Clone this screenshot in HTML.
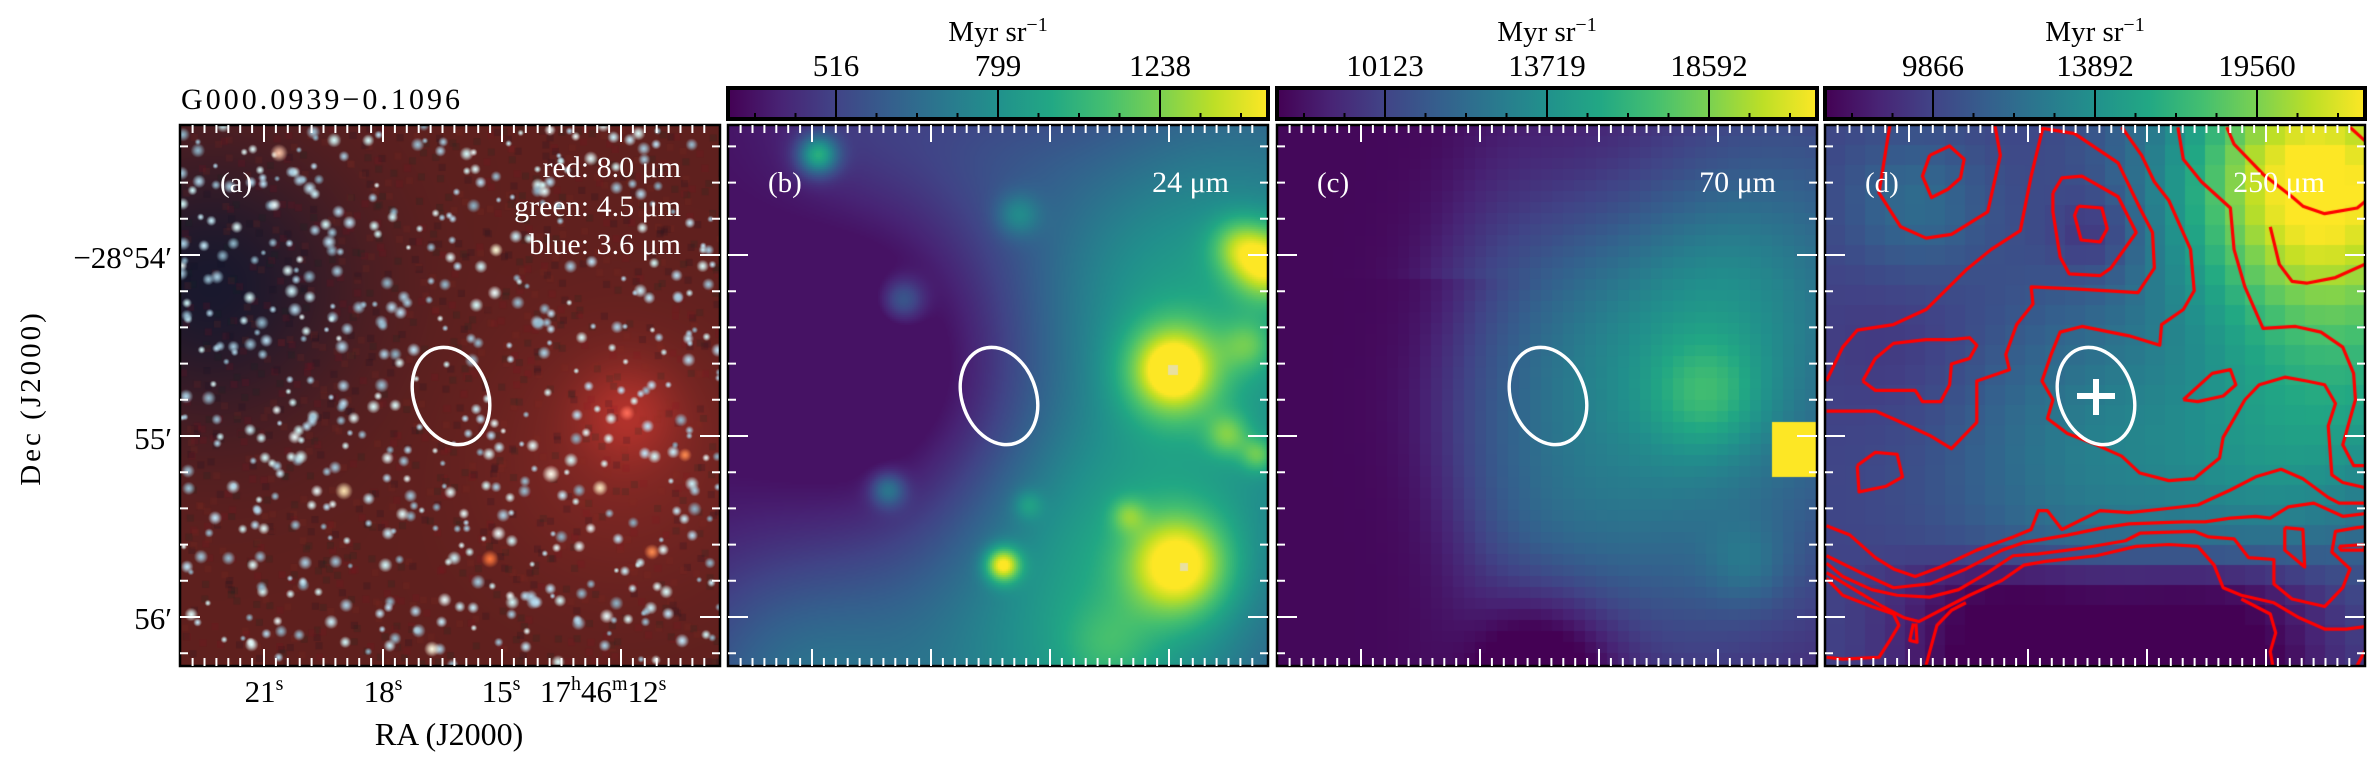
<!DOCTYPE html>
<html><head><meta charset="utf-8"><style>
html,body{margin:0;padding:0;background:#fff;}
#wrap{position:relative;width:2379px;height:762px;overflow:hidden;background:#fff;}
canvas{position:absolute;top:125px;}
svg{position:absolute;left:0;top:0;}
text{font-family:"Liberation Serif",serif;}
</style></head><body>
<div id="wrap">
<canvas id="ca" width="540" height="541" style="left:180px"></canvas>
<canvas id="cb" width="540" height="541" style="left:728px"></canvas>
<canvas id="cc" width="540" height="541" style="left:1277px"></canvas>
<canvas id="cd" width="540" height="541" style="left:1825px"></canvas>
<svg id="ov" width="2379" height="762"></svg>
</div>
<script>
const cbTicksB=["516","799","1238"];
const cbTicksC=["10123","13719","18592"];
const cbTicksD=["9866","13892","19560"];
const raLabels=["21s","18s","15s","17h46m12s"];
const decLabels=["−28°54′","55′","56′"];

const VIR=[[68,1,84],[72,36,117],[65,68,135],[53,95,141],[42,120,142],[33,145,140],[34,168,132],[68,191,112],[122,209,81],[189,223,38],[253,231,37]];
function vir(v){v=Math.max(0,Math.min(1,v));const f=v*10,i=Math.min(9,Math.floor(f)),t=f-i;const a=VIR[i],b=VIR[i+1];return [a[0]+(b[0]-a[0])*t,a[1]+(b[1]-a[1])*t,a[2]+(b[2]-a[2])*t];}
function gsum(x,y,list){let s=0;for(const g of list){const dx=x-g[0],dy=y-g[1];s+=g[3]*Math.exp(-(dx*dx+dy*dy)/(2*g[2]*g[2]));}return s;}
function sig(z){return 1/(1+Math.exp(-z));}
function drawField(id,cell,fn){const c=document.getElementById(id),ctx=c.getContext('2d');const n=Math.ceil(540/cell);
 for(let j=0;j<n;j++)for(let i=0;i<n;i++){const x=(i+0.5)*cell,y=(j+0.5)*cell;const col=vir(fn(x,y));ctx.fillStyle=`rgb(${col[0]|0},${col[1]|0},${col[2]|0})`;ctx.fillRect(i*cell,j*cell,cell+0.5,cell+0.5);}return ctx;}

// panel b
const GB=[[540,80,150,0.3],[520,330,140,0.3],[380,180,110,0.2],[300,540,140,0.3],[60,560,90,0.25],[430,540,120,0.2],[330,380,80,0.1],[130,0,60,0.1],[250,30,70,0.1],[190,260,110,-0.15],
[90,30,14,0.5],[445,245,32,0.55],[445,245,12,0.3],[450,440,35,0.55],[275,440,12,0.6],[160,365,12,0.3],[175,175,15,0.25],[540,140,25,0.5],[400,390,12,0.2],[510,120,20,0.25],[290,90,15,0.2],[500,310,15,0.25],[530,330,12,0.25],[300,380,10,0.15],[380,520,30,0.12],[520,220,18,0.2]];
const ctxb=drawField('cb',2,(x,y)=>Math.max(0.05,0.05+gsum(x,y,GB)));
ctxb.fillStyle='#e8e0a0';ctxb.fillRect(440,240,10,10);ctxb.fillRect(452,438,8,8);

// panel c
const GC=[[400,300,180,0.3],[500,100,150,0.15],[350,200,120,0.1],[250,450,90,0.1],[430,270,40,0.2],[450,160,60,0.05],[470,440,30,0.12],[260,540,60,-0.3],[340,40,90,-0.1]];
drawField('cc',11,(x,y)=>{if(x>490&&y>300&&y<350)return 1;let v=0.05+gsum(x,y,GC);const edge=(y<150?150+(150-y)*0.3:170+Math.sin(y/60)*15);v=0.02+(v-0.02)*sig((x-edge)/25);return v;});

// panel d
const GD=[[490,50,100,0.8],[540,250,110,0.3],[280,330,110,0.22],[90,80,50,0.15],[450,350,70,0.1],[80,220,60,-0.05],[270,110,30,-0.12]];
const ctxd=drawField('cd',20,(x,y)=>{let v=0.2+gsum(x,y,GD);v-=0.3*Math.exp(-Math.pow((x-290)/210,4))*sig((y-440)/12);return v;});

const CT=[
[[300,150],[355,125],[395,160],[385,210],[350,240],[305,262],[280,205],[300,150]],
[[190,70],[160,250],[220,340],[290,370],[360,360],[460,300],[495,150],[480,70]],
[[710,285],[775,290],[790,345],[770,380],[718,375],[700,310],[710,285]],
[[640,250],[665,210],[720,205],[820,260],[870,355],[800,450],[770,470],[685,465],[660,420],[640,300],[640,250]],
[[15,750],[60,660],[100,615],[200,600],[290,560],[400,455],[470,400],[550,350],[580,205],[612,78],[700,92],[820,170],[880,290],[915,355],[920,450],[875,515],[700,505],[580,500],[585,545],[540,600],[510,680],[520,720],[430,750],[430,860],[360,930],[300,895],[210,855],[150,830],[15,830]],
[[830,75],[885,150],[920,220],[960,270],[1020,400],[1030,510],[1000,560],[940,600],[935,655],[850,630],[720,605],[660,620],[635,680],[610,750],[640,800],[625,850],[680,890],[760,920],[830,950],[880,995],[960,1015],[1030,1010],[1100,955],[1110,900],[1170,800],[1210,760],[1280,740],[1340,750],[1390,760],[1420,810],[1400,870],[1410,1000],[1440,1020],[1530,1040]],
[[985,75],[1000,160],[1050,220],[1130,290],[1140,400],[1170,500],[1220,610],[1310,605],[1380,620],[1440,660],[1470,730],[1475,800],[1440,920],[1470,975],[1530,975]],
[[1120,75],[1140,120],[1220,200],[1300,260],[1330,285],[1390,305],[1480,290],[1530,250]],
[[1240,340],[1265,440],[1300,485],[1340,490],[1420,475],[1500,440],[1530,435]],
[[1460,75],[1500,110],[1530,120]],
[[1000,800],[1080,730],[1130,720],[1145,760],[1110,790],[1040,805],[1000,800]],
[[115,750],[150,690],[200,650],[290,640],[360,640],[410,635],[430,655],[410,690],[360,705],[355,760],[330,805],[280,805],[260,775],[150,775],[115,750]],
[[100,975],[150,940],[210,945],[225,1005],[180,1030],[105,1045],[100,975]],
[[1280,1140],[1330,1145],[1335,1245],[1280,1200],[1280,1140]],
[[1430,1190],[1500,1185],[1500,1200],[1435,1200],[1430,1190]],
[[15,1135],[80,1160],[150,1220],[200,1250],[260,1270],[330,1245],[430,1200],[530,1165],[580,1145],[600,1095],[625,1095],[665,1145],[770,1095],[850,1100],[950,1090],[1040,1080],[1130,1040],[1200,1005],[1270,985],[1330,1010],[1400,1060],[1430,1075],[1530,1075]],
[[15,1215],[110,1260],[200,1300],[300,1290],[400,1250],[500,1200],[560,1180],[680,1160],[780,1140],[850,1130],[1000,1125],[1060,1125],[1130,1115],[1200,1110],[1240,1115],[1290,1085],[1360,1075],[1440,1110],[1530,1100]],
[[15,1235],[60,1270],[140,1305],[210,1320],[300,1325],[380,1305],[460,1260],[530,1215],[600,1210],[720,1195],[840,1175],[880,1155],[1030,1150],[1070,1165],[1140,1170],[1180,1220],[1250,1225],[1250,1290],[1300,1330],[1390,1350],[1440,1300],[1460,1250],[1410,1205],[1420,1150],[1480,1140],[1530,1135]],
[[15,1260],[100,1310],[170,1350],[230,1380],[270,1390],[330,1360],[410,1320],[500,1280],[560,1240],[620,1230],[760,1215],[870,1190],[960,1185],[1040,1190],[1085,1240],[1110,1300],[1160,1320],[1250,1340],[1320,1380],[1390,1410],[1450,1410],[1530,1400]],
[[15,1275],[60,1320],[140,1350],[200,1370],[215,1400],[190,1440],[160,1485],[60,1490],[15,1485]],
[[255,1395],[245,1440],[265,1445],[262,1395]],
[[285,1525],[300,1470],[320,1400],[360,1360],[400,1340]],
[[1250,1525],[1240,1470],[1255,1420],[1240,1370],[1160,1330]],
[[1470,1525],[1500,1470],[1530,1455]]
];
ctxd.strokeStyle='#ff0000';ctxd.lineWidth=3.2;ctxd.lineJoin='round';
for(const c of CT){ctxd.beginPath();c.forEach((p,i)=>{const x=p[0]/2.76-4,y=p[1]/2.66-26;i?ctxd.lineTo(x,y):ctxd.moveTo(x,y);});ctxd.stroke();}

// panel a
(function(){const c=document.getElementById('ca'),ctx=c.getContext('2d');
let s=12345;function rnd(){s=(s*1664525+1013904223)%4294967296;return s/4294967296;}
const img=ctx.createImageData(540,541);
for(let y=0;y<541;y++)for(let x=0;x<540;x++){
 const dark=Math.exp(-((x-30)**2+(y-160)**2)/(2*100*100));
 const neb=Math.exp(-((x-447)**2+(y-288)**2)/(2*35*35))*0.6+0.35*Math.exp(-((x-440)**2+(y-330)**2)/(2*90*90));
 let r=95-70*dark+90*neb,g=32-8*dark+20*neb,b=30+15*dark+15*neb;
 const k=(y*540+x)*4;img.data[k]=r;img.data[k+1]=g;img.data[k+2]=b;img.data[k+3]=255;}
ctx.putImageData(img,0,0);
for(let i=0;i<1200;i++){const x=rnd()*540,y=rnd()*541;ctx.fillStyle=`rgba(${rnd()<0.5?10:140},${rnd()<0.5?15:50},${35},0.15)`;ctx.fillRect(x,y,7,7);}
function star(x,y,r,col){const gr=ctx.createRadialGradient(x,y,0,x,y,r);gr.addColorStop(0,`rgba(${col},1)`);gr.addColorStop(0.4,`rgba(${col},0.7)`);gr.addColorStop(1,`rgba(${col},0)`);ctx.fillStyle=gr;ctx.fillRect(x-r,y-r,2*r,2*r);}
for(let i=0;i<520;i++){const x=rnd()*540,y=rnd()*541,r=3+rnd()*4.5;const w=140+rnd()*100|0;star(x,y,r,`${w},${Math.min(255,w+40)},${Math.min(255,w+60)}`);}
const BR=[[99,28,9,'255,200,170'],[164,366,9,'255,230,180'],[310,434,9,'255,120,60'],[371,349,9,'255,255,240'],[420,363,8,'255,240,200'],[472,427,8,'255,140,80'],[252,524,8,'255,255,230'],[447,288,8,'255,110,90'],[316,125,7,'255,255,220'],[505,330,7,'255,140,80']];
for(const b of BR)star(b[0],b[1],b[2],b[3]);
})();

const NS='http://www.w3.org/2000/svg',ov=document.getElementById('ov');
function el(tag,attrs,txt){const e=document.createElementNS(NS,tag);for(const k in attrs)e.setAttribute(k,attrs[k]);if(txt!==undefined)e.textContent=txt;ov.appendChild(e);return e;}
const PL=[180,728,1277,1825],PT=125,PW=540,PH=541;
PL.forEach((L,pi)=>{
 let fr=el('rect',{x:L,y:PT,width:PW,height:PH,fill:'none',stroke:'#000','stroke-width':2.5});
 
 
 let d='';
 for(let k=-8;k<40;k++){const x=84+k*11.9;if(x<6||x>PW-6)continue;const maj=Math.abs(((k%10)+10)%10)===0;const len=maj?17:8;d+=`M${L+x} ${PT}v${len}M${L+x} ${PT+PH}v${-len}`;}
 for(let k=-4;k<12;k++){const y=130+k*36.2;if(y<6||y>PH-6)continue;const maj=(((k%5)+5)%5)===0;const len=maj?20:8;d+=`M${L} ${PT+y}h${len}M${L+PW} ${PT+y}h${-len}`;}
 let tk=el('path',{d:d,stroke:'#fff','stroke-width':2,fill:'none'});
 
 
 let e=el('ellipse',{cx:L+271,cy:PT+271,rx:37,ry:50,transform:`rotate(-20 ${L+271} ${PT+271})`,fill:'none',stroke:'#fff','stroke-width':3.5});
 
 
 const lab=['(a)','(b)','(c)','(d)'][pi];
 let t=el('text',{x:L+40,y:PT+67,'font-size':29,fill:'#fff'},lab);
 
 
});
let cr=el('path',{d:`M${1825+252} ${PT+271}h38M${1825+271} ${PT+254}v36`,stroke:'#fff','stroke-width':6});


[['red: 8.0 μm',177],['green: 4.5 μm',216],['blue: 3.6 μm',254]].forEach(b=>{let t=el('text',{x:681,y:b[1],'font-size':30,fill:'#fff','text-anchor':'end'},b[0]);});
[['24 μm',1229],['70 μm',1776],['250 μm',2325]].forEach(b=>{let t=el('text',{x:b[1],y:192,'font-size':30,fill:'#fff','text-anchor':'end'},b[0]);});
let grad=el('linearGradient',{id:'vg',x1:0,x2:1,y1:0,y2:0});
for(let i=0;i<=10;i++){const s=document.createElementNS(NS,'stop');s.setAttribute('offset',i/10);s.setAttribute('stop-color',`rgb(${VIR[i].join(',')})`);grad.appendChild(s);}
[[728,cbTicksB],[1277,cbTicksC],[1825,cbTicksD]].forEach(([L,ticks])=>{
 let r=el('rect',{x:L,y:88,width:PW,height:31,fill:'url(#vg)',stroke:'#000','stroke-width':4});
 
 
 let d='';
 for(let k=0;k<3;k++){const x=L+108+k*162;d+=`M${x} 88v31`;}
 for(let k=-2;k<11;k++){const x=L+108+k*40.5;if(x<L+5||x>L+PW-5||k%4===0)continue;d+=`M${x} 119v-6`;}
 let p=el('path',{d:d,stroke:'#000','stroke-width':2});
 
 
 ticks.forEach((tx,k)=>{let t=el('text',{x:L+108+k*162,y:76,'font-size':31,'text-anchor':'middle',fill:'#000'},tx);});
 let u=el('text',{x:L+270,y:41,'font-size':29,'text-anchor':'middle',fill:'#000'});
 
 
 u.innerHTML='Myr sr<tspan dy="-10" font-size="20">−1</tspan>';
});
let ti=el('text',{x:181,y:109,'font-size':30,fill:'#000',textLength:279},'G000.0939−0.1096');


const raX=[264,383,501];
raX.forEach((x,i)=>{let t=el('text',{x:x,y:702,'font-size':31,'text-anchor':'middle'});t.innerHTML=raLabels[i].replace('s','<tspan dy="-12" font-size="20">s</tspan>');});
let ra4=el('text',{x:540,y:702,'font-size':31});


ra4.innerHTML='17<tspan dy="-12" font-size="20">h</tspan><tspan dy="12">46</tspan><tspan dy="-12" font-size="20">m</tspan><tspan dy="12">12</tspan><tspan dy="-12" font-size="20">s</tspan>';
let rt=el('text',{x:449,y:745,'font-size':32,'text-anchor':'middle'},'RA (J2000)');


[268,449,629].forEach((y,i)=>{let t=el('text',{x:172,y:y,'font-size':31,'text-anchor':'end'},decLabels[i]);});
let dt=el('text',{x:0,y:0,'font-size':29,'text-anchor':'middle','letter-spacing':3,transform:'translate(40 398) rotate(-90)'},'Dec (J2000)');


</script>
</body></html>
